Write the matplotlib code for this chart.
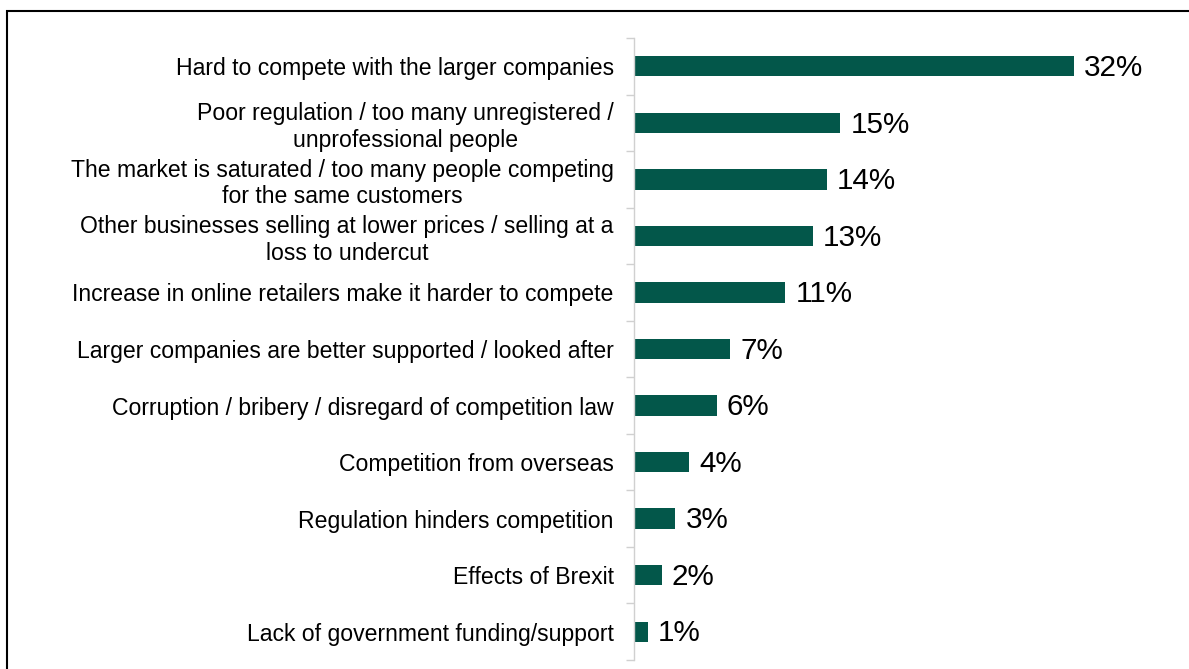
import matplotlib.pyplot as plt
from matplotlib.patches import Rectangle
import numpy as np

plt.rcParams['font.family'] = ['Liberation Sans', 'DejaVu Sans']

# barriers to competition, top to bottom
labels = [
    "Hard to compete with the larger companies",
    "Poor regulation / too many unregistered /\nunprofessional people",
    "The market is saturated / too many people competing\nfor the same customers",
    "Other businesses selling at lower prices / selling at a\nloss to undercut",
    "Increase in online retailers make it harder to compete",
    "Larger companies are better supported / looked after",
    "Corruption / bribery / disregard of competition law",
    "Competition from overseas",
    "Regulation hinders competition",
    "Effects of Brexit",
    "Lack of government funding/support",
]
values = [32, 15, 14, 13, 11, 7, 6, 4, 3, 2, 1]

bar_color = '#03574a'

W, H = 1189, 669
fig = plt.figure(figsize=(W / 100, H / 100), dpi=100)

# outer frame, only top and left edges fall inside the image
fig.patches.append(Rectangle((6.5 / W, -0.1), 1.2, 1 - 11.5 / H + 0.1,
                             transform=fig.transFigure, fill=False,
                             edgecolor='black', linewidth=1.5))

ax = fig.add_axes([634 / W, 1 - 660 / H, (W - 634) / W, 622 / H])
n = len(values)
y = np.arange(n)
ax.barh(y, values, height=0.36, color=bar_color)
ax.set_ylim(n - 0.5, -0.5)
ax.set_xlim(0, (W - 634) / 13.75)

for yi, v in zip(y, values):
    ax.text(v + 0.75, yi + 0.03, f"{v}%", va='center', ha='left', fontsize=21.3)

for s in ['top', 'right', 'bottom']:
    ax.spines[s].set_visible(False)
ax.spines['left'].set_color('#d0d0d0')
ax.spines['left'].set_linewidth(1.0)

ax.set_xticks([])
ax.set_yticks(y)
ax.set_yticklabels(labels, fontsize=16.6, multialignment='center')
ax.tick_params(axis='y', which='major', length=0, pad=14.5)
ax.set_yticks(np.arange(n + 1) - 0.5, minor=True)
ax.tick_params(axis='y', which='minor', length=6, color='#d0d0d0', width=1.0)

fig.savefig('out.png', dpi=100)
